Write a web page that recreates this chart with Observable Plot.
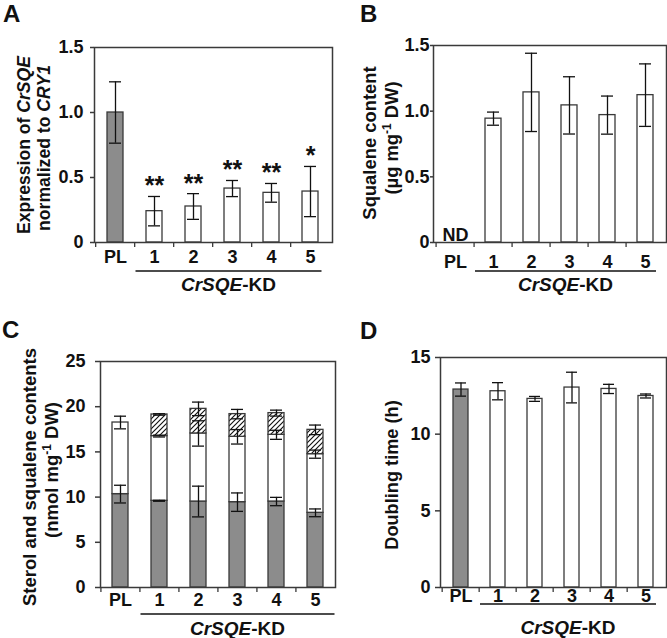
<!DOCTYPE html>
<html><head><meta charset="utf-8">
<script src="https://cdn.jsdelivr.net/npm/d3@7"></script>
<script src="https://cdn.jsdelivr.net/npm/@observablehq/plot@0.6"></script>
<style>
body{margin:0;background:#fff;}
#fig{position:relative;width:667px;height:638px;overflow:hidden;background:#fff;}
#fig svg{position:absolute;overflow:visible;}
</style></head><body><div id="fig"></div>
<script>
// ---------- data ----------
const lines = ["PL", "1", "2", "3", "4", "5"];
// A: CrSQE expression normalized to CRY1
const exprMean = [1.0, 0.241, 0.277, 0.415, 0.382, 0.392];
const exprErr  = [0.236, 0.113, 0.099, 0.062, 0.072, 0.193];
const exprSig  = ["", "**", "**", "**", "**", "*"];
// B: squalene content (µg mg-1 DW); PL not detected
const squaleneMean = [null, 0.943, 1.143, 1.044, 0.970, 1.122];
const squaleneErr  = [null, 0.050, 0.298, 0.218, 0.145, 0.238];
// C: sterol and squalene contents (nmol mg-1 DW), stacked segments
const segGray  = [10.33, 9.59, 9.51, 9.44, 9.51, 8.26];
const errGray  = [0.98, 0.05, 1.70, 1.02, 0.46, 0.43];
const segWhite = [7.92, 7.16, 7.53, 7.23, 7.38, 6.49];
const errWhite = [0.70, 0.10, 1.40, 0.80, 0.50, 0.45];
const segHatch = [0, 2.39, 2.72, 2.51, 2.40, 2.69];
const errHatch = [0, 0.08, 0.75, 0.52, 0.33, 0.53];
// D: doubling time (h)
const doublingMean = [12.91, 12.80, 12.30, 13.04, 12.95, 12.49];
const doublingErr  = [0.43, 0.56, 0.16, 1.00, 0.30, 0.13];

const FONT = 'Arial, "Liberation Sans", sans-serif';
const FS = 18;
const GRAY = "#8c8c8c", EDGE = "#3a3a3a", INK = "#111";
const fig = document.getElementById("fig");

function errMarks(data, x, y, e, inset) {
  const f = data.filter(d => d[y] != null && d[e] > 0);
  return [
    Plot.ruleX(f, {x, y1: d => d[y] - d[e], y2: d => d[y] + d[e], stroke: INK, strokeWidth: 1.3}),
    Plot.tickY(f, {x, y: d => d[y] - d[e], stroke: INK, strokeWidth: 1.3, inset}),
    Plot.tickY(f, {x, y: d => d[y] + d[e], stroke: INK, strokeWidth: 1.3, inset})
  ];
}

function panel(o) {
  const step = (o.width - o.ml - o.mr) / lines.length;
  const svg = Plot.plot({
    width: o.width, height: o.height,
    marginLeft: o.ml, marginRight: o.mr, marginTop: o.mt, marginBottom: o.mb,
    style: {fontFamily: FONT, fontSize: FS + "px", fontWeight: "bold", color: INK, background: "transparent", overflow: "visible"},
    x: {domain: lines, paddingInner: o.pad, paddingOuter: o.pad / 2, axis: null},
    y: {domain: [0, o.ymax], axis: null},
    marks: [
      ...o.marks,
      Plot.frame({stroke: EDGE, strokeWidth: 1.5}),
      Plot.axisY({ticks: o.yticks, tickFormat: o.yfmt, tickSize: o.ytickSize, tickPadding: o.ytickPad, stroke: EDGE, strokeWidth: 1.5, fill: INK, label: null}),
      Plot.axisX({tickSize: 0, tickPadding: o.xpad, fill: INK, label: null}),
      Plot.axisX({tickSize: 5, tickFormat: () => "", dx: -step / 2, stroke: EDGE, strokeWidth: 1.3, label: null})
    ]
  });
  svg.style.left = o.left + "px";
  svg.style.top = o.top + "px";
  const s = d3.select(svg);
  // hatch pattern
  const pat = s.insert("defs", ":first-child").append("pattern")
    .attr("id", "hatch").attr("patternUnits", "userSpaceOnUse").attr("width", 5).attr("height", 5);
  pat.append("rect").attr("width", 5).attr("height", 5).attr("fill", "#fff");
  pat.append("path").attr("d", "M-1,1 l2,-2 M0,5 l5,-5 M4,6 l2,-2").attr("stroke", INK).attr("stroke-width", 1.15);
  // panel letter
  s.append("text").attr("x", o.letterX).attr("y", o.letterY).attr("font-family", FONT)
    .attr("text-anchor", "start")
    .attr("font-size", 24).attr("font-weight", "bold").attr("fill", INK).text(o.letter);
  // y label (rotated), lines of parts
  o.ylabel.forEach((parts, i) => {
    const t = s.append("text").attr("transform", `translate(${o.ylabX[i]},${o.ylabY[i]}) rotate(-90)`)
      .attr("text-anchor", "middle").attr("font-family", FONT).attr("font-size", o.ylabFS)
      .attr("font-weight", "bold").attr("fill", INK);
    parts.forEach(p => {
      const ts = t.append("tspan").text(p.t);
      if (p.i) ts.attr("font-style", "italic");
      if (p.sup) ts.attr("font-size", 12).attr("dy", -7);
      if (p.after) ts.attr("dy", 7);
    });
  });
  // group bracket for the knock-down lines
  const xs = svg.scale("x");
  const gap = (xs.step - xs.bandwidth) / 2;
  const x1 = xs.apply("1") - gap + 1;
  const x2 = xs.apply("5") + xs.bandwidth + gap - o.bracketTrim;
  s.append("line").attr("x1", x1).attr("x2", x2).attr("y1", o.bracketY).attr("y2", o.bracketY)
    .attr("stroke", INK).attr("stroke-width", 1.3);
  const g = s.append("text").attr("x", (x1 + x2) / 2).attr("y", o.bracketY + o.bracketText)
    .attr("text-anchor", "middle").attr("font-family", FONT).attr("font-size", 19)
    .attr("font-weight", "bold").attr("fill", INK);
  g.append("tspan").attr("font-style", "italic").text("CrSQE");
  g.append("tspan").text("-KD");
  fig.appendChild(svg);
}

const fmt1 = d => d === 0 ? "0" : d.toFixed(1);

// ---------- Panel A ----------
const dataA = lines.map((line, i) => ({line, mean: exprMean[i], err: exprErr[i], sig: exprSig[i]}));
panel({
  letter: "A", letterX: 3, letterY: 22,
  left: 0, top: 0, width: 333, height: 300, ml: 94, mr: 1, mt: 47, mb: 58,
  pad: 0.58, ymax: 1.5, yticks: [0, 0.5, 1, 1.5], yfmt: fmt1, ytickSize: 4, ytickPad: 7, xpad: 8,
  ylabel: [[{t: "Expression of "}, {t: "CrSQE", i: true}], [{t: "normalized to "}, {t: "CRY1", i: true}]],
  ylabX: [29.5, 50], ylabY: [145, 148], ylabFS: 17.6,
  bracketY: 271, bracketText: 20, bracketTrim: 8,
  marks: [
    Plot.barY(dataA, {x: "line", y: "mean", fill: d => d.line === "PL" ? GRAY : "#fff", stroke: EDGE, strokeWidth: 1.3}),
    ...errMarks(dataA, "line", "mean", "err", 2),
    Plot.text(dataA, {x: "line", y: d => d.mean + d.err, text: "sig", lineAnchor: "bottom", dy: -2, fontSize: 25, fontWeight: "bold", fill: INK})
  ]
});

// ---------- Panel B ----------
const dataB = lines.map((line, i) => ({line, mean: squaleneMean[i], err: squaleneErr[i]}));
panel({
  letter: "B", letterX: 27, letterY: 22,
  left: 333, top: 0, width: 334, height: 300, ml: 100, mr: 1, mt: 45, mb: 58,
  pad: 0.58, ymax: 1.5, yticks: [0, 0.5, 1, 1.5], yfmt: fmt1, ytickSize: 3, ytickPad: 1, xpad: 13,
  ylabel: [[{t: "Squalene content"}], [{t: "(µg mg"}, {t: "-1", sup: true}, {t: " DW)", after: true}]],
  ylabX: [42.5, 65], ylabY: [143, 138], ylabFS: 18.4,
  bracketY: 271, bracketText: 20, bracketTrim: 8,
  marks: [
    Plot.barY(dataB.filter(d => d.mean != null), {x: "line", y: "mean", fill: "#fff", stroke: EDGE, strokeWidth: 1.3}),
    ...errMarks(dataB, "line", "mean", "err", 2),
    Plot.text(["ND"], {x: () => "PL", y: () => 0, text: d => d, lineAnchor: "bottom", dy: -2, fill: INK})
  ]
});

// ---------- Panel C ----------
const dataC = lines.map((line, i) => ({
  line,
  g0: 0, g1: segGray[i], ge: errGray[i],
  w1: segGray[i] + segWhite[i], we: errWhite[i],
  h1: segGray[i] + segWhite[i] + segHatch[i], he: errHatch[i], hv: segHatch[i]
}));
panel({
  letter: "C", letterX: 2, letterY: 18,
  left: 0, top: 320, width: 336, height: 318, ml: 100, mr: 1, mt: 41, mb: 51,
  pad: 0.59, ymax: 25, yticks: [0, 5, 10, 15, 20, 25], yfmt: d => String(d), ytickSize: 5, ytickPad: 10, xpad: 6,
  ylabel: [[{t: "Sterol and squalene contents"}], [{t: "(nmol mg"}, {t: "-1", sup: true}, {t: " DW)", after: true}]],
  ylabX: [35.5, 58], ylabY: [157, 150], ylabFS: 18.5,
  bracketY: 294, bracketText: 21, bracketTrim: 0,
  marks: [
    Plot.barY(dataC, {x: "line", y1: "g0", y2: "g1", fill: GRAY, stroke: EDGE, strokeWidth: 1.3}),
    Plot.barY(dataC, {x: "line", y1: "g1", y2: "w1", fill: "#fff", stroke: EDGE, strokeWidth: 1.3}),
    Plot.barY(dataC.filter(d => d.hv > 0), {x: "line", y1: "w1", y2: "h1", fill: "url(#hatch)", stroke: EDGE, strokeWidth: 1.3}),
    ...errMarks(dataC, "line", "g1", "ge", 2),
    ...errMarks(dataC, "line", "w1", "we", 2),
    ...errMarks(dataC.filter(d => d.hv > 0), "line", "h1", "he", 2)
  ]
});

// ---------- Panel D ----------
const dataD = lines.map((line, i) => ({line, mean: doublingMean[i], err: doublingErr[i]}));
panel({
  letter: "D", letterX: 27, letterY: 19,
  left: 333, top: 320, width: 334, height: 318, ml: 107, mr: 1, mt: 37, mb: 51,
  pad: 0.585, ymax: 15, yticks: [0, 5, 10, 15], yfmt: d => String(d), ytickSize: 5, ytickPad: 5, xpad: 2,
  ylabel: [[{t: "Doubling time (h)"}]],
  ylabX: [65], ylabY: [155], ylabFS: 18.2,
  bracketY: 284, bracketText: 30, bracketTrim: 8,
  marks: [
    Plot.barY(dataD, {x: "line", y: "mean", fill: d => d.line === "PL" ? GRAY : "#fff", stroke: EDGE, strokeWidth: 1.3}),
    ...errMarks(dataD, "line", "mean", "err", 2)
  ]
});
</script></body></html>
